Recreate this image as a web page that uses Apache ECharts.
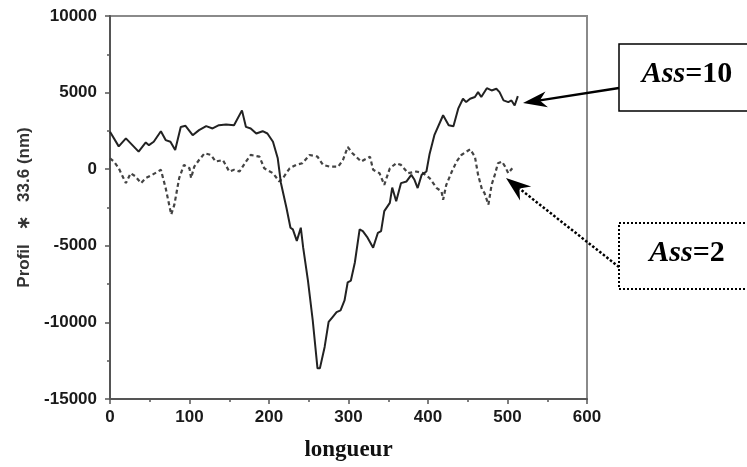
<!DOCTYPE html>
<html>
<head>
<meta charset="utf-8">
<script src="https://cdn.jsdelivr.net/npm/echarts@6/dist/echarts.min.js"></script>
<style>html,body{margin:0;padding:0;background:#fff;}#c{width:747px;height:467px;}</style>
</head>
<body>
<div id="c"></div>
<script>
// Ass=10 (solid)
var ass10X = [0, 11, 20, 36, 45, 49, 55, 64, 70, 76, 82, 89, 95, 104, 112, 121, 129, 137, 146, 156, 166, 171, 177, 184, 192, 198, 205, 211, 215, 222, 227, 230, 235, 240, 243, 249, 255, 261, 264, 270, 275, 280, 285, 290, 295, 299, 303, 308, 314, 318, 324, 331, 337, 341, 345, 352, 355, 360, 366, 373, 379, 383, 387, 392, 398, 402, 408, 419, 426, 432, 438, 444, 448, 453, 459, 463, 467, 474, 480, 486, 490, 495, 501, 505, 509, 513];
var ass10Y = [2440, 1490, 2010, 1150, 1750, 1570, 1790, 2480, 1900, 1790, 1250, 2760, 2830, 2220, 2550, 2810, 2660, 2870, 2920, 2870, 3840, 2760, 2660, 2330, 2480, 2330, 1790, 710, -900, -2530, -3820, -3930, -4680, -3820, -5120, -7270, -9860, -13000, -13000, -11600, -9970, -9650, -9330, -9220, -8570, -7380, -7270, -6090, -3930, -4040, -4470, -5120, -4150, -4040, -2740, -2200, -1200, -2090, -910, -800, -370, -690, -1230, -370, -150, 1000, 2220, 3520, 2870, 2810, 3950, 4600, 4380, 4600, 4710, 5030, 4710, 5290, 5140, 5250, 5030, 4490, 4380, 4490, 4160, 4770];
// Ass=2 (dashed)
var ass2X = [0, 5, 11, 20, 26, 32, 39, 45, 53, 64, 70, 77, 81, 87, 93, 100, 102, 106, 112, 119, 127, 133, 142, 150, 156, 163, 171, 177, 188, 194, 205, 213, 219, 226, 234, 242, 251, 261, 268, 276, 287, 293, 299, 305, 316, 327, 331, 339, 345, 352, 360, 366, 375, 385, 394, 402, 411, 417, 419, 423, 430, 436, 442, 453, 459, 463, 468, 471, 476, 480, 484, 488, 493, 497, 501, 506];
var ass2Y = [710, 500, 60, -910, -260, -470, -910, -580, -370, -40, -1230, -2960, -2310, -580, 280, 60, -580, 170, 600, 1040, 930, 500, 600, -150, -40, -150, 500, 930, 820, 60, -260, -800, -470, 60, 280, 390, 930, 820, 280, 170, 170, 600, 1450, 1040, 500, 820, -40, -260, -1020, 60, 390, 280, -260, -150, -260, -580, -1230, -1450, -1990, -1020, -150, 500, 930, 1300, 820, -370, -1340, -1550, -2310, -1020, -370, 390, 500, 170, -260, 60];
var xTicks = {min: 0, max: 600, step: 100};
var yTicks = {min: -15000, max: 10000, step: 5000};
var yName = 'Profil   \u2217   33.6 (nm)';
var xName = 'longueur';
var label10 = 'Ass=10';
var label2 = 'Ass=2';

function pairs(xs, ys) { return xs.map(function (x, i) { return [x, ys[i]]; }); }

var chart = echarts.init(document.getElementById('c'), null, {renderer: 'canvas'});
var tickFont = {fontFamily: 'Liberation Sans, Arial, sans-serif', fontWeight: 'bold', fontSize: 17, color: '#1a1a1a',
  formatter: function (v) { return String(v); }};
var serif = 'Liberation Serif, Times New Roman, serif';

function arrow(tip, tail, len, half, notch, dashed) {
  var dx = tail[0] - tip[0], dy = tail[1] - tip[1];
  var L = Math.sqrt(dx * dx + dy * dy);
  var ux = dx / L, uy = dy / L, px = -uy, py = ux;
  var bx = tip[0] + ux * len, by = tip[1] + uy * len;
  var nx = tip[0] + ux * notch, ny = tip[1] + uy * notch;
  return [
    {type: 'line', silent: true, z: 100, shape: {x1: tail[0], y1: tail[1], x2: nx, y2: ny},
      style: {stroke: '#000', lineWidth: 2.5, lineDash: dashed ? [2.5, 2] : null}},
    {type: 'polygon', silent: true, z: 101, shape: {points: [tip, [bx + px * half, by + py * half], [nx, ny], [bx - px * half, by - py * half]]},
      style: {fill: '#000'}}
  ];
}

var graphics = [
  {type: 'rect', z: 100, shape: {x: 619, y: 44, width: 140, height: 67}, style: {fill: '#fff', stroke: '#000', lineWidth: 1.5}},
  {type: 'rect', z: 100, shape: {x: 619, y: 223, width: 140, height: 66}, style: {fill: '#fff', stroke: '#000', lineWidth: 2, lineDash: [2, 2]}},
  {type: 'text', z: 102, x: 687, y: 74, style: {text: '{a|Ass}{b|=10}', align: 'center', verticalAlign: 'middle',
    rich: {a: {fontFamily: serif, fontStyle: 'italic', fontWeight: 'bold', fontSize: 30, fill: '#000'},
           b: {fontFamily: serif, fontWeight: 'bold', fontSize: 30, fill: '#000'}}}},
  {type: 'text', z: 102, x: 687, y: 253, style: {text: '{a|Ass}{b|=2}', align: 'center', verticalAlign: 'middle',
    rich: {a: {fontFamily: serif, fontStyle: 'italic', fontWeight: 'bold', fontSize: 30, fill: '#000'},
           b: {fontFamily: serif, fontWeight: 'bold', fontSize: 30, fill: '#000'}}}}
].concat(arrow([523, 103], [619, 88], 24, 8, 17, false))
 .concat(arrow([506, 178], [619, 267], 25, 9, 17, true));

chart.setOption({
  animation: false,
  backgroundColor: '#fff',
  grid: {left: 110, right: 160, top: 16, bottom: 65, show: true, borderColor: '#8a8a8a', borderWidth: 2, backgroundColor: 'transparent'},
  xAxis: {
    type: 'value', min: xTicks.min, max: xTicks.max, interval: xTicks.step,
    name: xName, nameLocation: 'middle', nameGap: 40,
    nameTextStyle: {fontFamily: serif, fontWeight: 'bold', fontSize: 23, color: '#111'},
    axisLine: {show: true, onZero: false, lineStyle: {color: '#555', width: 2}},
    axisTick: {show: true, inside: false, length: 5, lineStyle: {color: '#555', width: 1.5}},
    minorTick: {show: true, splitNumber: 2, length: 3, lineStyle: {color: '#555', width: 1.5}},
    axisLabel: Object.assign({margin: 10}, tickFont),
    splitLine: {show: false}
  },
  yAxis: {
    type: 'value', min: yTicks.min, max: yTicks.max, interval: yTicks.step,
    name: yName, nameLocation: 'middle', nameGap: 74, nameRotate: 90,
    nameTextStyle: {fontFamily: 'Liberation Sans, Arial, sans-serif', fontWeight: 'bold', fontSize: 17, color: '#333'},
    axisLine: {show: true, onZero: false, lineStyle: {color: '#555', width: 2}},
    axisTick: {show: true, inside: false, length: 5, lineStyle: {color: '#555', width: 1.5}},
    minorTick: {show: true, splitNumber: 2, length: 3, lineStyle: {color: '#555', width: 1.5}},
    axisLabel: Object.assign({margin: 13}, tickFont),
    splitLine: {show: false}
  },
  series: [
    {type: 'line', name: label10, data: pairs(ass10X, ass10Y), showSymbol: false, symbol: 'none',
      lineStyle: {color: '#222', width: 2}, z: 3},
    {type: 'line', name: label2, data: pairs(ass2X, ass2Y), showSymbol: false, symbol: 'none',
      lineStyle: {color: '#444', width: 2.2, type: [4, 3]}, z: 2}
  ],
  graphic: graphics
});
</script>
</body>
</html>
